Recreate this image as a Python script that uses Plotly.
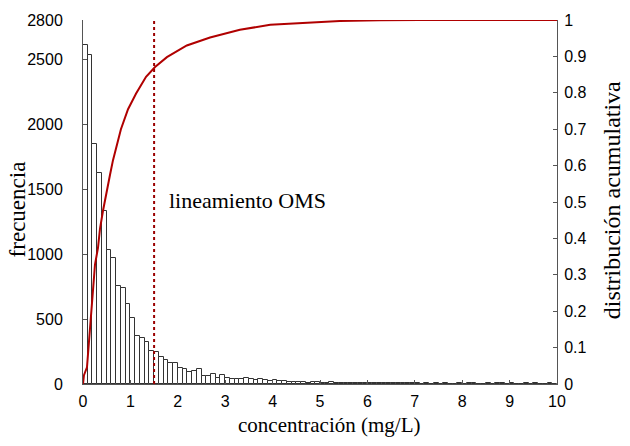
import plotly.graph_objects as go

# Histogram of concentrations, 0.1 mg/L bins from 0 to 10 mg/L
bin_width = 0.1
counts = [
    2610, 2530, 1850, 1620, 1330, 1030, 970, 753, 735, 612,
    504, 369, 354, 324, 256, 243, 211, 186, 161, 161,
    125, 118, 93, 100, 118, 60, 60, 75, 50, 68,
    50, 35, 40, 35, 50, 35, 30, 38, 30, 25,
    30, 25, 20, 15, 18, 12, 15, 10, 12, 15,
    10, 8, 12, 8, 6, 8, 6, 8, 5, 10,
    6, 5, 6, 4, 5, 6, 4, 5, 4, 5,
    4, 3, 5, 3, 4, 3, 4, 3, 3, 4,
    3, 4, 8, 2, 3, 6, 3, 8, 5, 3,
    8, 3, 2, 6, 2, 5, 2, 3, 5, 2,
]

# Cumulative distribution curve
cdf_x = [0.0, 0.02, 0.084, 0.127, 0.169, 0.211, 0.253, 0.316, 0.359, 0.422, 0.485,
         0.57, 0.633, 0.738, 0.80, 0.95, 1.12, 1.33, 1.52, 1.77, 2.19, 2.68, 3.31,
         3.95, 4.58, 5.42, 6.27, 7.1, 10.0]
cdf_y = [0.0, 0.024, 0.046, 0.118, 0.199, 0.28, 0.328, 0.374, 0.427, 0.476, 0.522,
         0.575, 0.615, 0.672, 0.70, 0.755, 0.798, 0.844, 0.871, 0.898, 0.93, 0.952, 0.973,
         0.987, 0.992, 0.997, 0.999, 1.0, 1.0]

guideline = 1.5  # WHO guideline, mg/L
guideline_label = "lineamiento OMS"

x_ticks = list(range(0, 11))
y_ticks = [0, 500, 1000, 1500, 2000, 2500, 2800]
y2_ticks = [i / 10 for i in range(11)]
y2_labels = ["0"] + [f"{v:.1f}" for v in y2_ticks[1:-1]] + ["1"]

bin_centers = [i * bin_width + bin_width / 2 for i in range(len(counts))]

sans = "Liberation Sans, Arial, sans-serif"
serif = "Liberation Serif, Times New Roman, serif"
axis_col = "#555555"

fig = go.Figure()
fig.add_trace(go.Bar(
    x=bin_centers, y=counts, width=bin_width,
    marker=dict(color="white", line=dict(color="#333333", width=1)),
    showlegend=False,
))
fig.add_trace(go.Scatter(
    x=cdf_x, y=cdf_y, yaxis="y2", mode="lines",
    line=dict(color="#b00000", width=2), showlegend=False,
))

fig.add_shape(type="line", xref="x", yref="paper", x0=guideline, x1=guideline,
              y0=0, y1=1, line=dict(color="#9a0000", width=2, dash="dot"))

fig.add_annotation(x=1.77, y=0.503, xref="x", yref="y2", text=guideline_label,
                   showarrow=False, xanchor="left", yanchor="middle",
                   font=dict(family=serif, size=22, color="black"))

# Axis titles
fig.add_annotation(x=-0.139, y=0.48, xref="paper", yref="paper", text="frecuencia",
                   textangle=-90, showarrow=False, xanchor="center", yanchor="middle",
                   font=dict(family=serif, size=23, color="black"))
fig.add_annotation(x=1.116, y=0.505, xref="paper", yref="paper",
                   text="distribución acumulativa", textangle=-90, showarrow=False,
                   xanchor="center", yanchor="middle",
                   font=dict(family=serif, size=24, color="black"))
fig.add_annotation(x=0.52, y=-0.113, xref="paper", yref="paper",
                   text="concentración (mg/L)", showarrow=False,
                   xanchor="center", yanchor="middle",
                   font=dict(family=serif, size=21, color="black"))

tickfont = dict(family=sans, size=16, color="black")
fig.update_layout(
    width=630, height=446,
    margin=dict(l=83, r=73, t=12, b=62),
    paper_bgcolor="white", plot_bgcolor="white",
    bargap=0,
    xaxis=dict(range=[0, 10], tickvals=x_ticks, ticks="inside", ticklen=4,
               tickcolor=axis_col, showline=True, linecolor=axis_col, linewidth=1,
               showgrid=False, zeroline=False, tickfont=tickfont, ticklabelstandoff=3),
    yaxis=dict(range=[0, 2800], tickvals=y_ticks, ticks="inside", ticklen=4,
               tickcolor=axis_col, showline=True, linecolor=axis_col, linewidth=1,
               showgrid=False, zeroline=False, tickfont=tickfont, ticklabelstandoff=16),
    yaxis2=dict(range=[0, 1], overlaying="y", side="right", tickvals=y2_ticks,
                ticktext=y2_labels, ticks="inside", ticklen=4, tickcolor=axis_col,
                showline=True, linecolor=axis_col, linewidth=1, showgrid=False,
                zeroline=False, tickfont=tickfont, ticklabelstandoff=3),
)

fig.write_html("out.html")
